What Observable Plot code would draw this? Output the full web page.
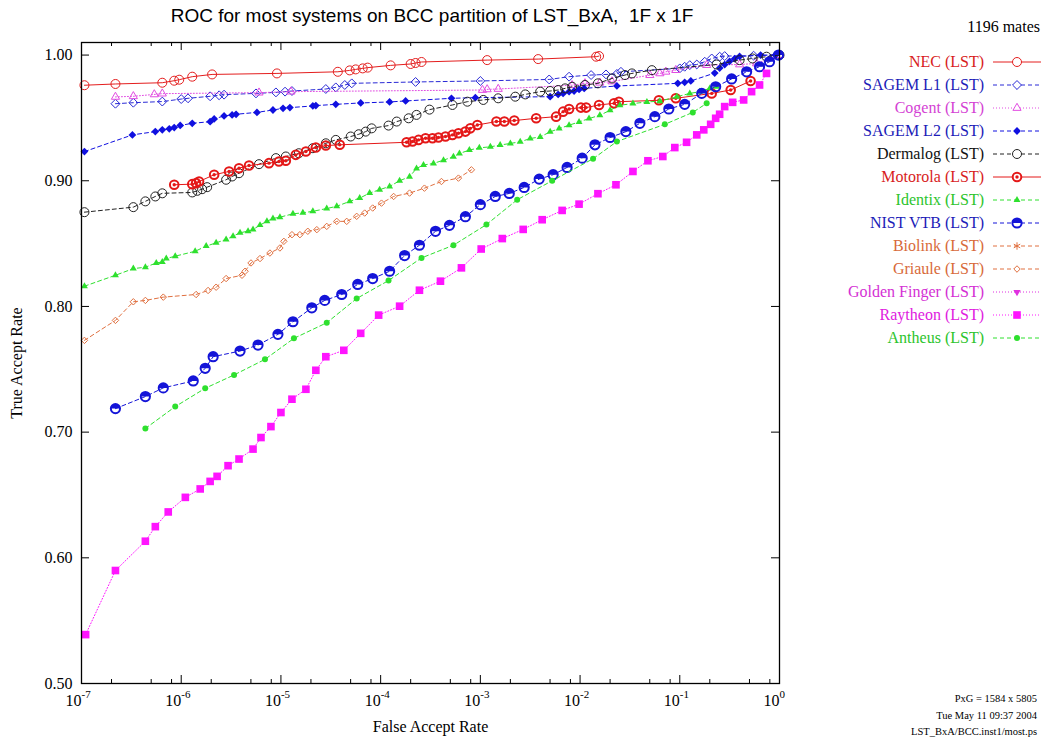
<!DOCTYPE html>
<html><head><meta charset="utf-8">
<script src="https://cdn.jsdelivr.net/npm/d3@7"></script>
<script src="https://cdn.jsdelivr.net/npm/@observablehq/plot@0.6"></script>
<style>
html,body{margin:0;padding:0;background:#fff;}
#wrap{position:relative;width:1044px;height:745px;overflow:hidden;font-family:"Liberation Serif",serif;color:#000;}
#chart{position:absolute;left:0;top:0;}
.title{position:absolute;left:0;top:5px;width:864px;text-align:center;font-family:"Liberation Sans",Arial,sans-serif;font-size:19px;white-space:pre;}
.mates{position:absolute;right:4px;top:18px;font-size:16px;}
.leg{position:absolute;right:60px;height:20px;line-height:20px;font-size:16px;white-space:nowrap;}
.legsvg{position:absolute;left:991px;width:52px;height:20px;}
.foot{position:absolute;right:7px;font-size:10.5px;line-height:14px;text-align:right;}
</style></head>
<body><div id="wrap"><div id="chart"></div></div>
<script>
// ---------- data: [False Accept Rate, True Accept Rate] ----------
const nec = [[1.07e-7,0.976],[2.19e-7,0.977],[6.46e-7,0.978],[8.51e-7,0.9796],[9.55e-7,0.9804],[1.29e-6,0.9828],[2.04e-6,0.9846],[9.12e-6,0.9854],[3.72e-5,0.9867],[4.90e-5,0.9878],[5.62e-5,0.9886],[6.61e-5,0.9894],[7.41e-5,0.990],[1.26e-4,0.9918],[2.0e-4,0.9929],[2.24e-4,0.9937],[2.57e-4,0.9945],[1.17e-3,0.996],[3.80e-3,0.9968],[1.45e-2,0.9987],[1.55e-2,0.9992]];
const sagemL1 = [[2.19e-7,0.9613],[3.31e-7,0.9621],[6.46e-7,0.963],[1.0e-6,0.965],[1.17e-6,0.9656],[1.95e-6,0.9672],[2.40e-6,0.968],[2.69e-6,0.9685],[5.62e-6,0.9695],[8.91e-6,0.9703],[1.10e-5,0.9709],[1.29e-5,0.9714],[2.82e-5,0.973],[3.55e-5,0.9743],[4.37e-5,0.9762],[5.13e-5,0.9775],[2.24e-4,0.9786],[1.0e-3,0.9794],[4.90e-3,0.9806],[7.76e-3,0.9828],[1.29e-2,0.9841],[1.82e-2,0.9846],[2.34e-2,0.985],[2.57e-2,0.9867],[0.1,0.9894],[0.112,0.9907],[0.126,0.992],[0.148,0.9925],[0.178,0.9947],[0.209,0.9973],[0.251,0.9987],[0.282,0.9992],[0.55,0.9995],[1.0,1.0]];
const cogent = [[2.19e-7,0.9667],[3.31e-7,0.9672],[5.37e-7,0.9687],[6.46e-7,0.9693],[6.03e-6,0.9701],[1.26e-5,0.9709],[1.05e-3,0.9722],[1.17e-3,0.9727],[1.51e-3,0.973],[8.32e-3,0.976],[1.12e-2,0.9775],[1.58e-2,0.978],[2.09e-2,0.979],[5.01e-2,0.984],[6.31e-2,0.9854],[7.24e-2,0.9867],[9.12e-2,0.988],[0.186,0.992],[0.398,0.9925],[0.589,0.9933],[1.0,1.0]];
const sagemL2 = [[1.07e-7,0.9232],[3.24e-7,0.9365],[5.50e-7,0.9391],[6.46e-7,0.9405],[7.59e-7,0.9413],[8.51e-7,0.9423],[9.77e-7,0.944],[1.29e-6,0.9457],[1.95e-6,0.947],[2.14e-6,0.9492],[2.69e-6,0.9516],[3.24e-6,0.9524],[3.55e-6,0.9529],[5.75e-6,0.9544],[8.32e-6,0.9563],[1.05e-5,0.9576],[1.23e-5,0.9582],[2.09e-5,0.9595],[2.24e-5,0.9598],[3.55e-5,0.9608],[6.31e-5,0.9619],[1.23e-4,0.9627],[1.78e-4,0.9635],[5.13e-4,0.9656],[8.91e-4,0.9661],[5.01e-3,0.9669],[6.03e-3,0.9687],[6.76e-3,0.9695],[7.76e-3,0.9709],[8.71e-3,0.9714],[9.77e-3,0.9727],[1.10e-2,0.9735],[2.34e-2,0.9754],[9.55e-2,0.9775],[0.112,0.9783],[0.129,0.9794],[0.224,0.9857],[0.251,0.9897],[0.282,0.9924],[0.316,0.995],[0.355,0.9971],[0.398,0.9989],[0.646,1.0],[0.912,1.0]];
const dermalog = [[1.07e-7,0.875],[3.31e-7,0.879],[4.37e-7,0.8836],[5.50e-7,0.8875],[6.46e-7,0.89],[1.29e-6,0.8907],[1.45e-6,0.892],[1.62e-6,0.8933],[1.82e-6,0.8949],[2.82e-6,0.9008],[3.24e-6,0.9034],[3.80e-6,0.906],[6.03e-6,0.9132],[8.91e-6,0.918],[1.12e-5,0.9193],[1.51e-5,0.9219],[2.09e-5,0.9259],[2.82e-5,0.9298],[3.55e-5,0.9325],[5.01e-5,0.9352],[6.03e-5,0.937],[7.08e-5,0.9391],[8.13e-5,0.9417],[1.20e-4,0.9439],[1.45e-4,0.9471],[1.91e-4,0.9497],[2.29e-4,0.9524],[3.09e-4,0.9566],[5.25e-4,0.9603],[7.41e-4,0.9629],[1.07e-3,0.9643],[1.51e-3,0.9656],[2.24e-3,0.9669],[2.82e-3,0.9687],[3.98e-3,0.9709],[5.01e-3,0.9714],[6.03e-3,0.9722],[7.08e-3,0.9735],[8.32e-3,0.9748],[1.12e-2,0.9762],[1.51e-2,0.9775],[2.09e-2,0.9814],[2.82e-2,0.9841],[3.31e-2,0.9854],[5.25e-2,0.988],[0.234,0.9925],[0.398,0.996],[0.537,0.9973],[0.741,0.9987],[1.0,1.0]];
const motorola = [[8.51e-7,0.8968],[1.29e-6,0.8973],[1.41e-6,0.8981],[1.51e-6,0.8994],[2.14e-6,0.9048],[3.02e-6,0.9074],[3.80e-6,0.91],[4.79e-6,0.9121],[7.59e-6,0.914],[9.55e-6,0.9153],[1.12e-5,0.9159],[1.41e-5,0.9206],[1.78e-5,0.9233],[2.24e-5,0.9264],[2.82e-5,0.928],[3.89e-5,0.9286],[1.82e-4,0.9306],[2.09e-4,0.9312],[2.40e-4,0.9325],[2.82e-4,0.9338],[3.31e-4,0.9338],[3.80e-4,0.9344],[4.47e-4,0.9352],[5.25e-4,0.9365],[6.03e-4,0.9378],[7.08e-4,0.9391],[7.94e-4,0.9417],[9.33e-4,0.9444],[1.45e-3,0.9471],[1.74e-3,0.9471],[2.19e-3,0.9479],[3.63e-3,0.9497],[5.75e-3,0.951],[6.76e-3,0.955],[7.76e-3,0.9571],[1.02e-2,0.9582],[1.15e-2,0.9582],[1.55e-2,0.9603],[2.19e-2,0.9616],[2.45e-2,0.9629],[6.17e-2,0.964],[9.12e-2,0.9656],[0.209,0.9695],[0.324,0.9722],[0.513,0.9794]];
const identix = [[1.07e-7,0.8161],[2.19e-7,0.8248],[3.31e-7,0.8301],[4.37e-7,0.8312],[5.62e-7,0.8346],[6.46e-7,0.8354],[7.08e-7,0.8381],[8.71e-7,0.840],[1.38e-6,0.8439],[1.78e-6,0.848],[2.24e-6,0.8506],[2.82e-6,0.8533],[3.31e-6,0.8559],[3.89e-6,0.8586],[4.68e-6,0.8599],[5.25e-6,0.8612],[6.17e-6,0.8647],[7.24e-6,0.8678],[8.32e-6,0.87],[9.77e-6,0.871],[1.32e-5,0.8737],[1.66e-5,0.8745],[2.09e-5,0.8757],[2.88e-5,0.8779],[3.63e-5,0.8797],[4.90e-5,0.8836],[6.17e-5,0.8862],[7.76e-5,0.8902],[9.77e-5,0.8929],[1.23e-4,0.8955],[1.55e-4,0.900],[1.95e-4,0.9032],[2.29e-4,0.9098],[2.69e-4,0.9125],[3.39e-4,0.9138],[4.27e-4,0.9164],[5.37e-4,0.9191],[6.17e-4,0.9217],[7.76e-4,0.9244],[9.77e-4,0.9262],[1.26e-3,0.927],[1.58e-3,0.9284],[2.00e-3,0.9297],[2.51e-3,0.931],[3.16e-3,0.9336],[3.98e-3,0.9349],[5.01e-3,0.9389],[6.17e-3,0.9415],[7.76e-3,0.9442],[9.77e-3,0.9468],[1.23e-2,0.9495],[1.58e-2,0.9521],[2.00e-2,0.9561],[2.51e-2,0.9601],[3.39e-2,0.9614],[4.68e-2,0.9627],[6.31e-2,0.9633],[9.33e-2,0.9668],[0.126,0.9695],[0.158,0.9708],[0.200,0.9735],[0.234,0.9748]];
const nistVTB = [[2.19e-7,0.7187],[4.37e-7,0.7283],[6.61e-7,0.7352],[1.32e-6,0.7407],[1.74e-6,0.7508],[2.09e-6,0.76],[3.89e-6,0.7645],[5.89e-6,0.7693],[9.33e-6,0.7778],[1.32e-5,0.7878],[2.04e-5,0.7989],[2.75e-5,0.8048],[4.07e-5,0.8095],[5.89e-5,0.8175],[8.32e-5,0.8222],[1.23e-4,0.828],[1.74e-4,0.8405],[2.45e-4,0.8487],[3.55e-4,0.8598],[4.90e-4,0.8645],[7.08e-4,0.8714],[1.0e-3,0.881],[1.41e-3,0.8875],[1.95e-3,0.8899],[2.75e-3,0.8947],[3.89e-3,0.9013],[5.37e-3,0.9048],[7.41e-3,0.9106],[1.05e-2,0.918],[1.41e-2,0.9286],[2.00e-2,0.9344],[2.88e-2,0.9391],[3.98e-2,0.9457],[5.62e-2,0.951],[7.76e-2,0.9571],[0.112,0.9608],[0.166,0.9695],[0.229,0.9748],[0.331,0.981],[0.468,0.9867],[0.631,0.9907],[0.794,0.9947],[0.977,1.0]];
const biolink = [];
const griaule = [[1.07e-7,0.773],[2.19e-7,0.7889],[3.31e-7,0.8037],[4.37e-7,0.8048],[6.61e-7,0.8074],[1.41e-6,0.8095],[1.86e-6,0.8127],[2.24e-6,0.8153],[2.82e-6,0.8222],[4.07e-6,0.8248],[4.37e-6,0.828],[5.01e-6,0.8346],[6.17e-6,0.8381],[7.76e-6,0.8425],[9.77e-6,0.8465],[1.07e-5,0.8518],[1.29e-5,0.8571],[1.55e-5,0.8571],[1.86e-5,0.8598],[2.29e-5,0.8611],[2.88e-5,0.8637],[3.63e-5,0.8677],[4.57e-5,0.8677],[5.75e-5,0.8717],[6.92e-5,0.8743],[8.32e-5,0.8783],[1.02e-4,0.8822],[1.35e-4,0.8875],[1.95e-4,0.8902],[2.75e-4,0.8941],[4.07e-4,0.8994],[6.03e-4,0.9021],[8.13e-4,0.9087]];
const goldenFinger = [];
const raytheon = [[1.10e-7,0.5389],[2.19e-7,0.5899],[4.37e-7,0.6132],[5.50e-7,0.6248],[7.41e-7,0.6365],[1.10e-6,0.6481],[1.55e-6,0.6548],[1.95e-6,0.6608],[2.29e-6,0.6648],[2.95e-6,0.6733],[3.80e-6,0.6786],[5.25e-6,0.6865],[6.31e-6,0.6957],[7.94e-6,0.7044],[1.0e-5,0.7156],[1.29e-5,0.7262],[1.78e-5,0.7341],[2.24e-5,0.7492],[2.82e-5,0.76],[4.27e-5,0.7651],[6.31e-5,0.7786],[9.55e-5,0.7931],[1.55e-4,0.8002],[2.45e-4,0.8129],[3.98e-4,0.8201],[6.46e-4,0.8307],[1.02e-3,0.8457],[1.66e-3,0.854],[2.69e-3,0.8613],[4.17e-3,0.869],[6.61e-3,0.8764],[9.77e-3,0.8814],[1.51e-2,0.8897],[2.29e-2,0.8968],[3.39e-2,0.9074],[4.79e-2,0.9159],[6.76e-2,0.9193],[8.91e-2,0.9264],[0.117,0.9306],[0.148,0.9365],[0.174,0.9405],[0.204,0.9449],[0.229,0.9497],[0.251,0.9529],[0.282,0.959],[0.339,0.9624],[0.437,0.9643],[0.525,0.9709],[0.631,0.9762],[0.741,0.9854]];
const antheus = [[4.37e-7,0.7029],[8.71e-7,0.7203],[1.74e-6,0.7349],[3.39e-6,0.7455],[6.92e-6,0.7579],[1.35e-5,0.7746],[2.88e-5,0.787],[5.75e-5,0.8063],[1.20e-4,0.8206],[2.57e-4,0.8386],[5.37e-4,0.8487],[1.15e-3,0.8651],[2.34e-3,0.8849],[5.25e-3,0.90],[1.35e-2,0.9175],[2.34e-2,0.9312],[7.08e-2,0.9449],[0.135,0.9544],[0.186,0.9616]];

const seriesNames = ["NEC (LST)","SAGEM L1 (LST)","Cogent (LST)","SAGEM L2 (LST)","Dermalog (LST)","Motorola (LST)","Identix (LST)","NIST VTB (LST)","Biolink (LST)","Griaule (LST)","Golden Finger (LST)","Raytheon (LST)","Antheus (LST)"];
const seriesData = [nec, sagemL1, cogent, sagemL2, dermalog, motorola, identix, nistVTB, biolink, griaule, goldenFinger, raytheon, antheus];

const xMajorTicks = [1e-7,1e-6,1e-5,1e-4,1e-3,1e-2,1e-1,1];
const xTickExps = ["-7","-6","-5","-4","-3","-2","-1","0"];
const xMinorTicks = [2e-7,5e-7,8e-7,2e-6,5e-6,8e-6,2e-5,5e-5,8e-5,2e-4,5e-4,8e-4,2e-3,5e-3,8e-3,2e-2,5e-2,8e-2,0.2,0.5,0.8];
const yTicks = [0.5,0.6,0.7,0.8,0.9,1.0];
const titleText = "ROC for most systems on BCC partition of LST_BxA,  1F x 1F";
const matesText = "1196 mates";
const footLines = ["PxG = 1584 x 5805","Tue May 11 09:37 2004","LST_BxA/BCC.inst1/most.ps"];

// ---------- styles ----------
const halfTop = {draw(ctx, size){const r=Math.sqrt(size/Math.PI); ctx.moveTo(r,0); ctx.arc(0,0,r,0,Math.PI,true); ctx.closePath();}};
const invTriangle = {draw(ctx, size){const s=Math.sqrt(size)*0.68; ctx.moveTo(0,s); ctx.lineTo(s*0.866,-s/2); ctx.lineTo(-s*0.866,-s/2); ctx.closePath();}};
const DASH = "4,3", DOT = "1,2";
const styles = [
 {color:"#e41e1e", text:"#d81c1c", dash:null, marker:"open", symbol:"circle", r:4.5},
 {color:"#2a2ad6", text:"#1c1cb8", dash:DASH, marker:"open", symbol:"diamond2", r:4},
 {color:"#e24ce2", text:"#d442d4", dash:DOT, marker:"open", symbol:"triangle2", r:3.9},
 {color:"#1010e0", text:"#1c1cb8", dash:DASH, marker:"filled", symbol:"diamond2", r:3.5},
 {color:"#222222", text:"#111111", dash:DASH, marker:"open", symbol:"circle", r:4.5},
 {color:"#e41818", text:"#d81c1c", dash:null, marker:"motorola"},
 {color:"#2ee02e", text:"#2cc42c", dash:DASH, marker:"filled", symbol:"triangle2", r:3.3},
 {color:"#1414d8", text:"#1c1cb8", dash:DASH, marker:"nist"},
 {color:"#e07040", text:"#d86a3a", dash:DASH, marker:"open", symbol:"asterisk", r:3.5},
 {color:"#e07040", text:"#d86a3a", dash:DASH, marker:"open", symbol:"diamond2", r:2.9},
 {color:"#e030e0", text:"#d430d4", dash:DOT, marker:"filled", symbol:invTriangle, r:3.5},
 {color:"#ff14ff", text:"#e020e0", dash:DOT, marker:"filled", symbol:"square", r:4.3},
 {color:"#2ee02e", text:"#2cc42c", dash:DASH, marker:"filled", symbol:"circle", r:3}
];

// ---------- chart ----------
const W = 1044, H = 745, mt = 42, mr = 265, mb = 62, ml = 81;
const FW = W - ml - mr, FH = H - mt - mb;
const X = d => d[0], Y = d => d[1];

function dotMarks(data, st){
  if (st.marker === "motorola") return [
    Plot.dot(data, {x:X, y:Y, r:4.3, stroke:st.color, strokeWidth:2, fill:"none"}),
    Plot.dot(data, {x:X, y:Y, r:1.7, fill:st.color, stroke:"none"})];
  if (st.marker === "nist") return [
    Plot.dot(data, {x:X, y:Y, r:4.6, stroke:st.color, strokeWidth:2, fill:"none"}),
    Plot.dot(data, {x:X, y:Y, r:4.6, symbol:halfTop, fill:st.color, stroke:"none"})];
  if (st.marker === "filled") return [Plot.dot(data, {x:X, y:Y, r:st.r, symbol:st.symbol, fill:st.color, stroke:"none"})];
  return [Plot.dot(data, {x:X, y:Y, r:st.r, symbol:st.symbol, stroke:st.color, strokeWidth:1, fill:"none"})];
}

const marks = [
  Plot.ruleX(xMajorTicks, {x:d=>d, insetTop:FH-8, stroke:"#000"}),
  Plot.ruleX(xMajorTicks, {x:d=>d, insetBottom:FH-8, stroke:"#000"}),
  Plot.ruleX(xMinorTicks, {x:d=>d, insetTop:FH-4, stroke:"#000"}),
  Plot.ruleX(xMinorTicks, {x:d=>d, insetBottom:FH-4, stroke:"#000"}),
  Plot.ruleY(yTicks, {y:d=>d, insetRight:FW-8, stroke:"#000"}),
  Plot.ruleY(yTicks, {y:d=>d, insetLeft:FW-8, stroke:"#000"}),
  Plot.axisY({ticks:yTicks, tickSize:0, tickPadding:9, tickFormat:d3.format(".2f"), fontSize:16,
    label:"True Accept Rate", labelAnchor:"center", labelOffset:71, labelArrow:"none"}),
  Plot.axisX({ticks:xMajorTicks, tickSize:0, tickPadding:11, tickFormat:()=>"10", textAnchor:"end", dx:0, fontSize:16,
    label:"False Accept Rate", labelAnchor:"center", labelOffset:48, labelArrow:"none"}),
  Plot.text(xMajorTicks, {x:d=>d, frameAnchor:"bottom", text:(d,i)=>xTickExps[i], textAnchor:"start", dx:0, dy:14, fontSize:11})
];
seriesData.forEach((data, i) => {
  const st = styles[i];
  if (!data.length) return;
  marks.push(Plot.line(data, {x:X, y:Y, stroke:st.color, strokeWidth:1, strokeDasharray:st.dash || undefined}));
  marks.push(...dotMarks(data, st));
});
marks.push(Plot.frame({stroke:"#000", strokeWidth:1.3}));

const chart = Plot.plot({
  width: W, height: H, marginTop: mt, marginRight: mr, marginBottom: mb, marginLeft: ml,
  style: {fontFamily: '"Liberation Serif", serif', fontSize: "16px", background: "transparent", color: "#000"},
  x: {type: "log", domain: [1e-7, 1]},
  y: {domain: [0.5, 1.01]},
  marks
});
document.getElementById("chart").appendChild(chart);

// ---------- title, legend, notes ----------
const wrap = d3.select("#wrap");
wrap.append("div").attr("class","title").text(titleText);
wrap.append("div").attr("class","mates").text(matesText);

function symbolPath(sym, r){
  const map = {circle:d3.symbolCircle, diamond2:d3.symbolDiamond2, triangle2:d3.symbolTriangle2, square:d3.symbolSquare, asterisk:d3.symbolAsterisk};
  const type = typeof sym === "string" ? map[sym] : sym;
  return d3.symbol(type, Math.PI * r * r)();
}
seriesNames.forEach((name, i) => {
  const st = styles[i];
  const cy = 62.3 + 23 * i;
  wrap.append("div").attr("class","leg").style("top", (cy - 10) + "px").style("color", st.text).text(name);
  const svg = wrap.append("svg").attr("class","legsvg").style("top", (cy - 10) + "px").attr("viewBox","0 0 52 20");
  svg.append("line").attr("x1",2).attr("x2",50).attr("y1",10).attr("y2",10)
    .attr("stroke", st.color).attr("stroke-width",1).attr("stroke-dasharray", st.dash);
  const g = svg.append("g").attr("transform","translate(26,10)");
  if (st.marker === "motorola") {
    g.append("circle").attr("r",4.3).attr("fill","white").attr("stroke",st.color).attr("stroke-width",2);
    g.append("circle").attr("r",1.7).attr("fill",st.color);
  } else if (st.marker === "nist") {
    g.append("circle").attr("r",4.6).attr("fill","white").attr("stroke",st.color).attr("stroke-width",2);
    g.append("path").attr("d", symbolPath(halfTop, 4.6)).attr("fill",st.color);
  } else if (st.marker === "filled") {
    g.append("path").attr("d", symbolPath(st.symbol, st.r)).attr("fill",st.color);
  } else {
    g.append("path").attr("d", symbolPath(st.symbol, st.r)).attr("fill","white").attr("stroke",st.color).attr("stroke-width",1);
  }
});
footLines.forEach((t, i) => {
  wrap.append("div").attr("class","foot").style("top", (692 + 16.7 * i) + "px").text(t);
});
</script>
</body></html>
